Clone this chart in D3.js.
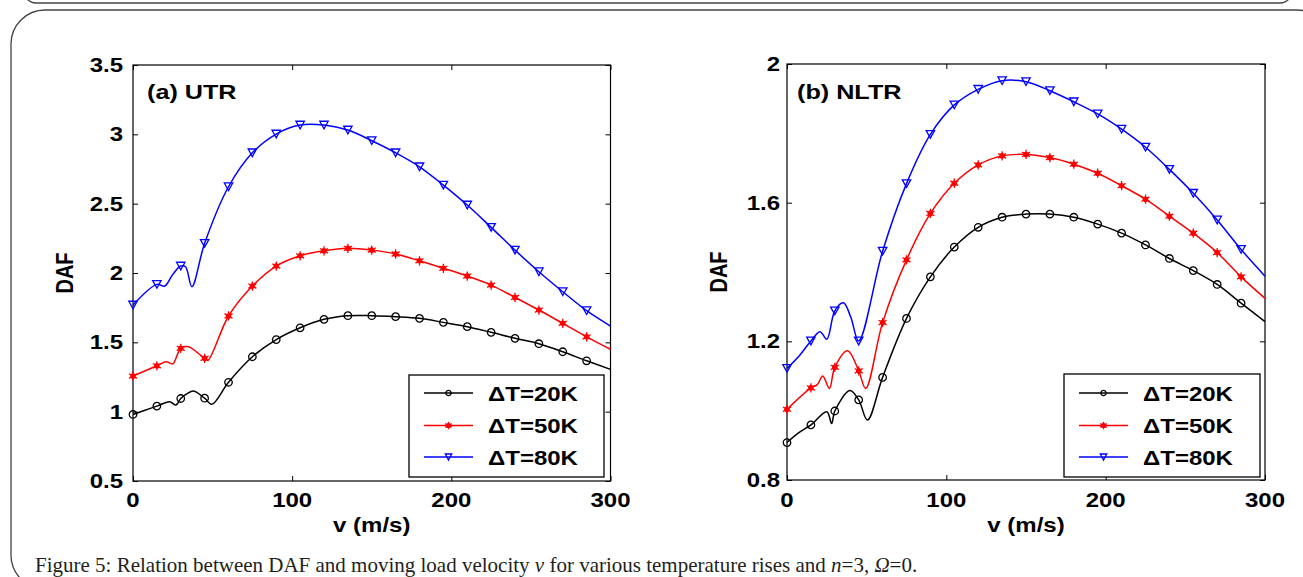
<!DOCTYPE html>
<html><head><meta charset="utf-8">
<script src="https://cdn.jsdelivr.net/npm/d3@7"></script>
<style>html,body{margin:0;padding:0;background:#fff;} svg{display:block;}</style>
</head><body>
<svg id="c" width="1303" height="577"></svg>
<script>
// ---------- data ----------
const xTicks = [0, 100, 200, 300];
const xTickLabels = ["0", "100", "200", "300"];
const yTicksA = [0.5, 1, 1.5, 2, 2.5, 3, 3.5];
const yTickLabelsA = ["0.5", "1", "1.5", "2", "2.5", "3", "3.5"];
const yTicksB = [0.8, 1.2, 1.6, 2];
const yTickLabelsB = ["0.8", "1.2", "1.6", "2"];
const seriesNames = ["\u0394T=20K", "\u0394T=50K", "\u0394T=80K"];
const panelTitles = ["(a) UTR", "(b) NLTR"];
const xLabel = "v (m/s)";
const yLabel = "DAF";

// (a) UTR : [v (m/s), DAF]
const utr20 = [[0,0.98],[7.5,1.01],[15,1.04],[23,1.072],[27,1.048],[30,1.095],[34,1.13],[38,1.149],[45,1.097],[49.5,1.053],[60,1.212],
  [75,1.396],[90,1.52],[105,1.605],[120,1.666],[135,1.692],[150,1.692],[165,1.685],[180,1.673],[195,1.644],[210,1.613],
  [225,1.572],[240,1.529],[255,1.49],[270,1.432],[285,1.367],[300,1.305]];
const utr50 = [[0,1.257],[15,1.331],[21,1.36],[25,1.345],[30,1.457],[35,1.468],[40,1.43],[45,1.385],[47,1.37],[60,1.69],
  [75,1.906],[90,2.05],[105,2.124],[120,2.16],[135,2.178],[150,2.165],[165,2.137],[180,2.088],[195,2.034],[210,1.978],
  [225,1.913],[240,1.824],[255,1.733],[270,1.637],[285,1.54],[300,1.45]];
const utr80 = [[0,1.769],[15,1.918],[20,1.906],[25,1.99],[30,2.05],[33,2.045],[37,1.901],[45,2.214],[60,2.622],
  [75,2.867],[90,3.002],[105,3.067],[120,3.067],[135,3.031],[150,2.954],[165,2.867],[180,2.766],[195,2.634],[210,2.49],
  [225,2.329],[240,2.165],[255,2.009],[270,1.865],[285,1.728],[300,1.617]];

// (b) NLTR : [v (m/s), DAF]
const nltr20 = [[0,0.908],[7,0.935],[15,0.959],[25,0.997],[28,0.963],[30,0.999],[39.5,1.058],[45,1.031],[50.5,0.973],[60,1.096],
  [75,1.266],[90,1.386],[105,1.472],[120,1.529],[135,1.558],[150,1.567],[165,1.567],[180,1.558],[195,1.538],[210,1.512],
  [225,1.478],[240,1.439],[255,1.404],[270,1.364],[285,1.31],[300,1.257]];
const nltr50 = [[0,1.004],[15,1.066],[19,1.075],[22.4,1.10],[26.6,1.064],[30,1.125],[38,1.173],[45,1.115],[49.4,1.064],[60,1.254],
  [75,1.435],[90,1.569],[105,1.656],[120,1.709],[135,1.735],[150,1.739],[165,1.73],[180,1.711],[195,1.685],[210,1.649],
  [225,1.61],[240,1.561],[255,1.512],[270,1.456],[285,1.386],[300,1.324]];
const nltr80 = [[0,1.122],[8,1.16],[15,1.201],[20.7,1.228],[25,1.206],[30,1.288],[35.4,1.311],[40,1.27],[45,1.201],[60,1.46],
  [75,1.655],[90,1.797],[105,1.882],[120,1.927],[135,1.952],[150,1.949],[165,1.923],[180,1.891],[195,1.856],[210,1.812],
  [225,1.76],[240,1.696],[255,1.627],[270,1.55],[285,1.465],[300,1.388]];

// ---------- styles ----------
const colors = ["#000000", "#ff0000", "#0000ff"];
const FONT = "'Liberation Sans', Arial, Helvetica, sans-serif";

const svg = d3.select("#c");

// page frames
svg.append("rect").attr("x", 24).attr("y", -40).attr("width", 1268).attr("height", 43).attr("rx", 12)
  .attr("fill", "none").attr("stroke", "#444").attr("stroke-width", 1.3);
svg.append("rect").attr("x", 11).attr("y", 10).attr("width", 1320).attr("height", 579).attr("rx", 34)
  .attr("fill", "none").attr("stroke", "#444").attr("stroke-width", 1.3);

function txt(g, x, y, s, size, anchor, rot) {
  return g.append("text")
    .attr("transform", rot ? `translate(${x},${y}) rotate(-90) scale(1,1.2)` : `translate(${x},${y}) scale(1.2,1)`)
    .attr("text-anchor", anchor).attr("font-family", FONT).attr("font-weight", "bold")
    .attr("font-size", size).attr("fill", "#000").text(s);
}

function markerPath(kind, small) {
  if (kind === 0) return d3.symbol(d3.symbolCircle, small ? 22 : 44)();
  if (kind === 1) return d3.symbol(d3.symbolAsterisk, small ? 40 : 60)();
  const w = small ? 3.2 : 4.2, h = small ? 3 : 3.8;
  return `M${-w},${-h}L${w},${-h}L0,${h}Z`;
}
function drawMarker(g, cx, cy, kind, small) {
  g.append("path").attr("transform", `translate(${cx},${cy})`).attr("d", markerPath(kind, small))
    .attr("stroke", colors[kind]).attr("stroke-width", 1.3).attr("fill", "none");
  if (kind === 1) {
    g.append("circle").attr("cx", cx).attr("cy", cy).attr("r", small ? 2.6 : 2.8).attr("fill", colors[1]);
  }
}

const panels = [
  { xr: [133, 610.5], yr: [481, 65], dom: [0.5, 3.5], yt: yTicksA, ytl: yTickLabelsA,
    series: [utr20, utr50, utr80], title: panelTitles[0], titleX: 147, ytlX: 123, daX: 73,
    leg: { x: 409, y: 375, w: 195, h: 102, lx0: 424, lx1: 473, tx: 488 } },
  { xr: [787, 1265], yr: [480, 64], dom: [0.8, 2], yt: yTicksB, ytl: yTickLabelsB,
    series: [nltr20, nltr50, nltr80], title: panelTitles[1], titleX: 797, ytlX: 780, daX: 727,
    leg: { x: 1064, y: 374, w: 196, h: 103, lx0: 1079, lx1: 1128, tx: 1143 } }
];

panels.forEach(p => {
  const x = d3.scaleLinear().domain([0, 300]).range(p.xr);
  const y = d3.scaleLinear().domain(p.dom).range(p.yr);
  const g = svg.append("g");

  const mk = (axis, tr, tv) => {
    const a = g.append("g").attr("transform", tr)
      .call(axis.tickValues(tv).tickSizeInner(-5).tickSizeOuter(0).tickFormat(""));
    a.select(".domain").remove();
    a.selectAll("line").attr("stroke", "#000").attr("stroke-width", 1);
  };
  mk(d3.axisBottom(x), `translate(0,${p.yr[0]})`, xTicks);
  mk(d3.axisTop(x), `translate(0,${p.yr[1]})`, xTicks);
  mk(d3.axisLeft(y), `translate(${p.xr[0]},0)`, p.yt);
  mk(d3.axisRight(y), `translate(${p.xr[1]},0)`, p.yt);

  g.append("rect").attr("x", p.xr[0]).attr("y", p.yr[1]).attr("width", p.xr[1] - p.xr[0])
    .attr("height", p.yr[0] - p.yr[1]).attr("fill", "none").attr("stroke", "#000").attr("stroke-width", 1.2);

  p.yt.forEach((t, i) => txt(g, p.ytlX, y(t) + 7, p.ytl[i], 20, "end"));
  xTicks.forEach((t, i) => txt(g, x(t), 507, xTickLabels[i], 20, "middle"));

  txt(g, (p.xr[0] + p.xr[1]) / 2, 532, xLabel, 20, "middle");
  txt(g, p.daX, (p.yr[0] + p.yr[1]) / 2, yLabel, 20, "middle", true);

  txt(g, p.titleX, 99, p.title, 21, "start");

  const line = d3.line().x(d => x(d[0])).y(d => y(d[1])).curve(d3.curveCatmullRom.alpha(0.5));
  p.series.forEach((s, k) => {
    g.append("path").attr("d", line(s)).attr("fill", "none").attr("stroke", colors[k]).attr("stroke-width", 1.5);
  });
  p.series.forEach((s, k) => {
    s.filter(d => d[0] % 15 === 0 && d[0] < 300).forEach(d => drawMarker(g, x(d[0]), y(d[1]), k, false));
  });

  const L = p.leg;
  g.append("rect").attr("x", L.x).attr("y", L.y).attr("width", L.w).attr("height", L.h)
    .attr("fill", "#fff").attr("stroke", "#000").attr("stroke-width", 1.3);
  const ly = [393, 425.5, 457];
  seriesNames.forEach((n, k) => {
    g.append("line").attr("x1", L.lx0).attr("x2", L.lx1).attr("y1", ly[k]).attr("y2", ly[k])
      .attr("stroke", colors[k]).attr("stroke-width", 1.5);
    drawMarker(g, (L.lx0 + L.lx1) / 2, ly[k], k, true);
    txt(g, L.tx, ly[k] + 7.5, n, 20, "start");
  });
});

// caption
const cap = svg.append("text").attr("x", 35).attr("y", 572)
  .attr("font-family", "'Liberation Serif', 'Times New Roman', serif").attr("font-size", 18).attr("fill", "#231f20");
cap.append("tspan").text("Figure 5: Relation between DAF and moving load velocity ");
cap.append("tspan").attr("font-style", "italic").text("v");
cap.append("tspan").text(" for various temperature rises and ");
cap.append("tspan").attr("font-style", "italic").text("n");
cap.append("tspan").text("=3, ");
cap.append("tspan").attr("font-style", "italic").text("\u03A9");
cap.append("tspan").text("=0.");
const len = cap.node().getComputedTextLength();
cap.attr("font-size", 18 * 883 / len);
</script>
</body></html>
